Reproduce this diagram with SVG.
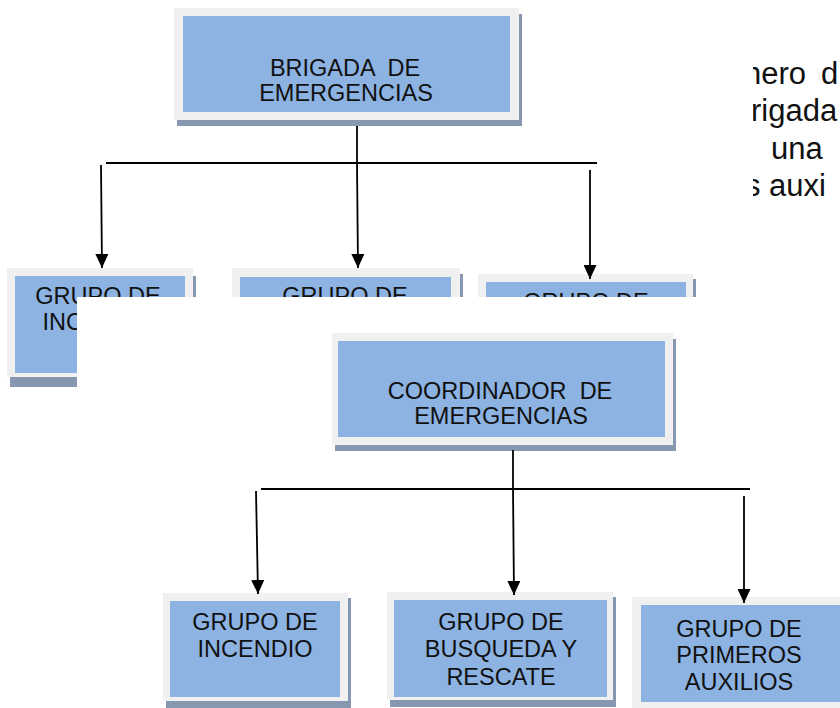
<svg xmlns="http://www.w3.org/2000/svg" width="840" height="708" viewBox="0 0 840 708">
<defs>
<marker id="arr" markerUnits="userSpaceOnUse" markerWidth="14" markerHeight="13" refX="14" refY="6.5" orient="auto">
<path d="M0,0 L14,6.5 L0,13 Z" fill="#000"/>
</marker>
<style>
.shadow{fill:#8797b0}
.frame{fill:#f0f0f0}
.blue{fill:#8db3e2}
.lbl{font-family:"Liberation Sans",Arial,sans-serif;font-size:23.5px;fill:#111;text-anchor:middle;white-space:pre}
.para{font-family:"Liberation Sans",Arial,sans-serif;font-size:31px;fill:#111;white-space:pre}
.ln{stroke:#000;stroke-width:1.8;fill:none}
.ar{stroke:#000;stroke-width:1.8;fill:none;marker-end:url(#arr)}
</style>
</defs>
<rect width="840" height="708" fill="#fff"/>

<g id="paragraph">
<text class="para" x="744" y="84">nero</text>
<text class="para" x="821" y="84">d</text>
<text class="para" x="751" y="121">rigada</text>
<text class="para" x="771" y="159">una</text>
<text class="para" x="745" y="196">s</text>
<text class="para" x="769" y="196">auxi</text>
</g>
<rect x="0" y="0" width="753" height="297" fill="#fff"/>

<g id="top-chart">
<g id="brigada">
<rect class="shadow" x="177" y="14" width="345" height="112"/>
<rect class="frame" x="174" y="8" width="345" height="112"/>
<rect class="blue" x="183" y="16" width="327" height="96"/>
<text class="lbl" x="345" y="76" xml:space="preserve">BRIGADA  DE</text>
<text class="lbl" x="346" y="101">EMERGENCIAS</text>
</g>
<g id="top-grupo-1">
<rect class="shadow" x="10" y="276" width="186" height="111"/>
<rect class="frame" x="7" y="268" width="186" height="109"/>
<rect class="blue" x="15" y="276" width="170" height="97"/>
<text class="lbl" x="98" y="304">GRUPO DE</text>
<text class="lbl" x="100" y="330">INCENDIO</text>
</g>
<g id="top-grupo-2">
<rect class="shadow" x="235" y="274" width="228" height="111"/>
<rect class="frame" x="232" y="268" width="228" height="109"/>
<rect class="blue" x="240" y="277" width="211" height="97"/>
<text class="lbl" x="345" y="304">GRUPO DE</text>
</g>
<g id="top-grupo-3">
<rect class="shadow" x="481" y="279" width="215" height="111"/>
<rect class="frame" x="478" y="274" width="215" height="109"/>
<rect class="blue" x="486" y="282" width="200" height="97"/>
<text class="lbl" x="586" y="310">GRUPO DE</text>
</g>
<g id="top-connectors">
<line class="ln" x1="357" y1="126" x2="357" y2="164"/>
<line class="ln" x1="106" y1="163" x2="597" y2="163"/>
<line class="ar" x1="101" y1="165" x2="102" y2="268"/>
<line class="ar" x1="357" y1="163" x2="358" y2="268"/>
<line class="ar" x1="590" y1="170" x2="590" y2="279"/>
</g>
</g>

<rect x="77" y="297" width="763" height="411" fill="#fff"/>

<g id="coordinador">
<rect class="shadow" x="335" y="339" width="341" height="112"/>
<rect class="frame" x="332" y="333" width="341" height="112"/>
<rect class="blue" x="338" y="341" width="327" height="96"/>
<text class="lbl" x="500" y="399" xml:space="preserve">COORDINADOR  DE</text>
<text class="lbl" x="501" y="424">EMERGENCIAS</text>
</g>
<g id="grupo-incendio">
<rect class="shadow" x="166" y="598" width="185" height="110"/>
<rect class="frame" x="163" y="593" width="185" height="108"/>
<rect class="blue" x="170" y="601" width="170" height="96"/>
<text class="lbl" x="255" y="630">GRUPO DE</text>
<text class="lbl" x="255" y="657">INCENDIO</text>
</g>
<g id="grupo-busqueda">
<rect class="shadow" x="390" y="597" width="226" height="110"/>
<rect class="frame" x="387" y="592" width="226" height="108"/>
<rect class="blue" x="394" y="600" width="213" height="97"/>
<text class="lbl" x="501" y="630">GRUPO DE</text>
<text class="lbl" x="501" y="657">BUSQUEDA Y</text>
<text class="lbl" x="501" y="685">RESCATE</text>
</g>
<g id="grupo-primeros">
<rect class="frame" x="632" y="597" width="215" height="112"/>
<rect class="blue" x="641" y="605" width="210" height="97"/>
<text class="lbl" x="739" y="637">GRUPO DE</text>
<text class="lbl" x="739" y="663">PRIMEROS</text>
<text class="lbl" x="739" y="690">AUXILIOS</text>
</g>
<g id="connectors">
<line class="ln" x1="513" y1="450" x2="513" y2="490"/>
<line class="ln" x1="261" y1="489" x2="750" y2="489"/>
<line class="ar" x1="256" y1="491" x2="258" y2="594"/>
<line class="ar" x1="513" y1="489" x2="514" y2="595"/>
<line class="ar" x1="744" y1="496" x2="744" y2="603"/>
</g>
</svg>
